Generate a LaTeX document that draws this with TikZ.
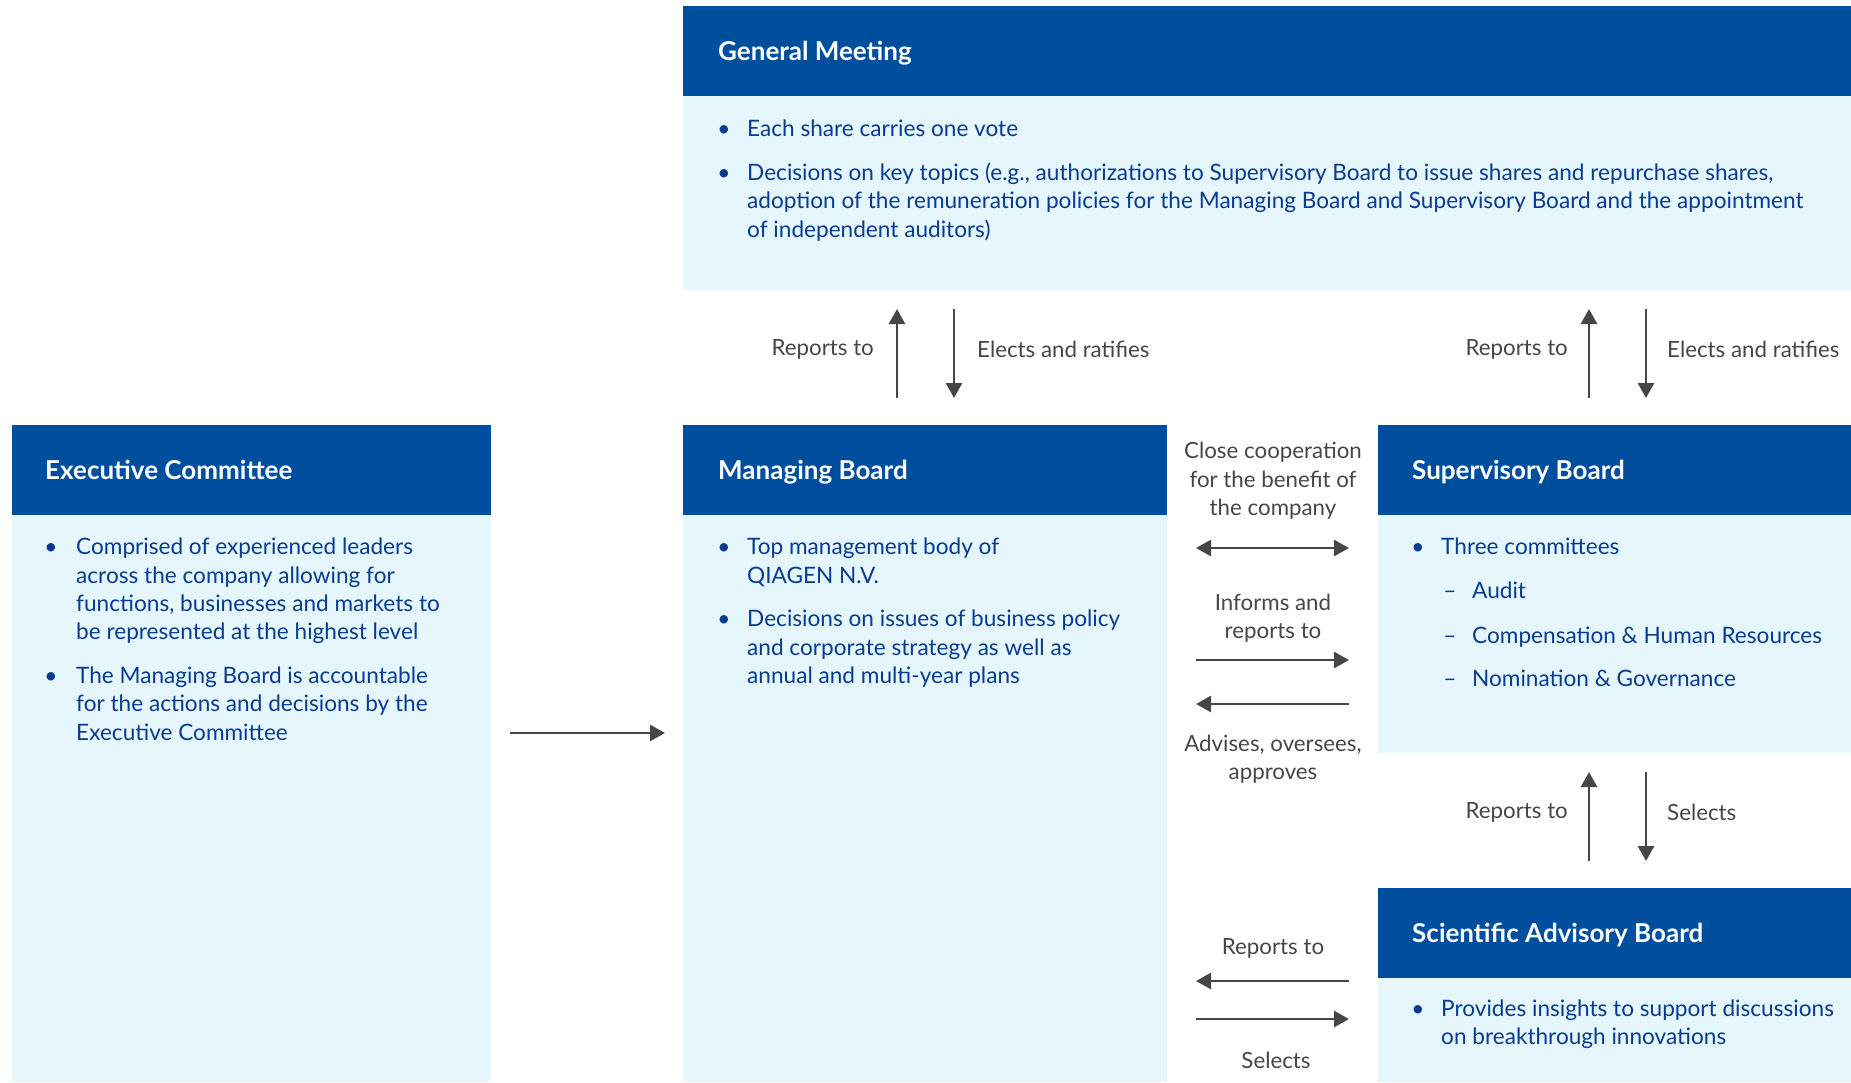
\documentclass[tikz,border=0pt]{standalone}
\usepackage{fontspec}
\setmainfont{Lato}
\usepackage{tikz}
\usetikzlibrary{arrows.meta, positioning}
\definecolor{qblue}{RGB}{0,79,159}
\definecolor{qlight}{RGB}{229,246,253}
\definecolor{qtext}{RGB}{8,60,145}
\definecolor{qgray}{RGB}{70,70,70}
\tikzstyle{box} = [fill=qlight, anchor=north west, inner sep=0pt, outer sep=0pt]
\tikzstyle{head} = [fill=qblue, anchor=north west, inner sep=0pt, outer sep=0pt, minimum height=90pt]
\tikzstyle{title} = [text=white, inner sep=0pt, anchor=west, text height=18pt, text depth=0pt, font=\fontsize{26}{30}\selectfont\bfseries]
\tikzstyle{txt} = [text=qtext, inner sep=0pt, anchor=west, text height=22pt, text depth=2pt, font=\fontsize{22.6}{28}\selectfont]
\tikzstyle{dot} = [txt, anchor=center]
\tikzstyle{lbl} = [text=qgray, inner sep=0pt, align=center, font=\fontsize{22.3}{28.5}\selectfont]
\tikzstyle{arrow} = [line width=2.8pt, draw=qgray, -{Triangle[length=15pt,width=16pt]}]
\tikzstyle{twoway} = [arrow, {Triangle[length=15pt,width=16pt]}-{Triangle[length=15pt,width=16pt]}]

\begin{document}
\begin{tikzpicture}[x=1pt, y=-1pt]
\useasboundingbox (0,0) rectangle (1851,1082);

% boxes and headers
\node[box, minimum width=1168pt, minimum height=284pt] (gm) at (683,6) {};
\node[box, minimum width=479pt, minimum height=657pt] (ec) at (12,425) {};
\node[box, minimum width=484pt, minimum height=657pt] (mb) at (683,425) {};
\node[box, minimum width=473pt, minimum height=328pt] (sb) at (1378,425) {};
\node[box, minimum width=473pt, minimum height=194pt] (sab) at (1378,888) {};
\node[head, minimum width=1168pt] (gmh) at (gm.north west) {};
\node[head, minimum width=479pt] (ech) at (ec.north west) {};
\node[head, minimum width=484pt] (mbh) at (mb.north west) {};
\node[head, minimum width=473pt] (sbh) at (sb.north west) {};
\node[head, minimum width=473pt] (sabh) at (sab.north west) {};
\node[title, right=35pt of gmh.west] (gmt) {General Meeting};
\node[title, right=33pt of ech.west] (ect) {Executive Committee};
\node[title, right=35pt of mbh.west] (mbt) {Managing Board};
\node[title, right=34pt of sbh.west] (sbt) {Supervisory Board};
\node[title, right=34pt of sabh.west] (sabt) {Scientific Advisory Board};

% bullet texts
\foreach \x/\y [count=\i] in {724/126, 724/170, 51/544, 51/673, 724/544, 724/616, 1418/544, 1418/1006}
  \node[dot] (dot\i) at (\x,\y) {\textbullet};
\foreach \y [count=\i] in {588, 633, 676}
  \node[dot] (dash\i) at (1450,\y) {--};
\foreach \y/\t [count=\i] in {126/Each share carries one vote,
    170/{Decisions on key topics (e.g., authorizations to Supervisory Board to issue shares and repurchase shares,},
    198/adoption of the remuneration policies for the Managing Board and Supervisory Board and the appointment,
    227/of independent auditors)}
  \node[txt] (gm\i) at (747,\y) {\t};
\foreach \y/\t [count=\i] in {544/Comprised of experienced leaders, 573/across the company allowing for,
    601/{functions, businesses and markets to}, 629/be represented at the highest level,
    673/The Managing Board is accountable, 701/for the actions and decisions by the, 730/Executive Committee}
  \node[txt] (ec\i) at (76,\y) {\t};
\foreach \y/\t [count=\i] in {544/Top management body of, 573/QIAGEN N.V.,
    616/Decisions on issues of business policy, 645/and corporate strategy as well as, 673/annual and multi-year plans}
  \node[txt] (mb\i) at (747,\y) {\t};
\node[txt] (sb1) at (1441,544) {Three committees};
\foreach \y/\t [count=\i] in {588/Audit, 633/Compensation \& Human Resources, 676/Nomination \& Governance}
  \node[txt] (sbc\i) at (1472,\y) {\t};
\foreach \y/\t [count=\i] in {1006/Provides insights to support discussions, 1034/on breakthrough innovations}
  \node[txt] (sab\i) at (1441,\y) {\t};

% arrows
\foreach \n/\x/\ya/\yb in {gmu/897/398/309, gmd/954/309/398, gsu/1589/398/309, gsd/1646/309/398, ssu/1589/861/772, ssd/1646/772/861} {
  \coordinate (\n a) at (\x,\ya);
  \coordinate (\n b) at (\x,\yb);
  \draw[arrow] (\n a) -- (\n b);
}
\foreach \n/\xa/\xb/\y in {ecm/510/665/733, inf/1196/1349/660, adv/1349/1196/704, rep/1349/1196/981, sel/1196/1349/1019} {
  \coordinate (\n a) at (\xa,\y);
  \coordinate (\n b) at (\xb,\y);
  \draw[arrow] (\n a) -- (\n b);
}
\coordinate (coa) at (1196,548);
\coordinate (cob) at (1349,548);
\draw[twoway] (coa) -- (cob);

% labels
\node[lbl, anchor=east] (lgm1) at (874,349) {Reports to};
\node[lbl, anchor=west] (lgm2) at (977,349) {Elects and ratifies};
\node[lbl, anchor=east] (lgs1) at (1568,349) {Reports to};
\node[lbl, anchor=west] (lgs2) at (1667,349) {Elects and ratifies};
\node[lbl, anchor=east] (lss1) at (1568,812) {Reports to};
\node[lbl, anchor=west] (lss2) at (1667,812) {Selects};
\node[lbl] (lco) at (1273,481) {Close cooperation\\for the benefit of\\the company};
\node[lbl] (linf) at (1273,618) {Informs and\\reports to};
\node[lbl] (ladv) at (1273,759) {Advises, oversees,\\approves};
\node[lbl] (lrep) at (1273,948) {Reports to};
\node[lbl] (lsel) at (1276,1060) {Selects};
\end{tikzpicture}
\end{document}
